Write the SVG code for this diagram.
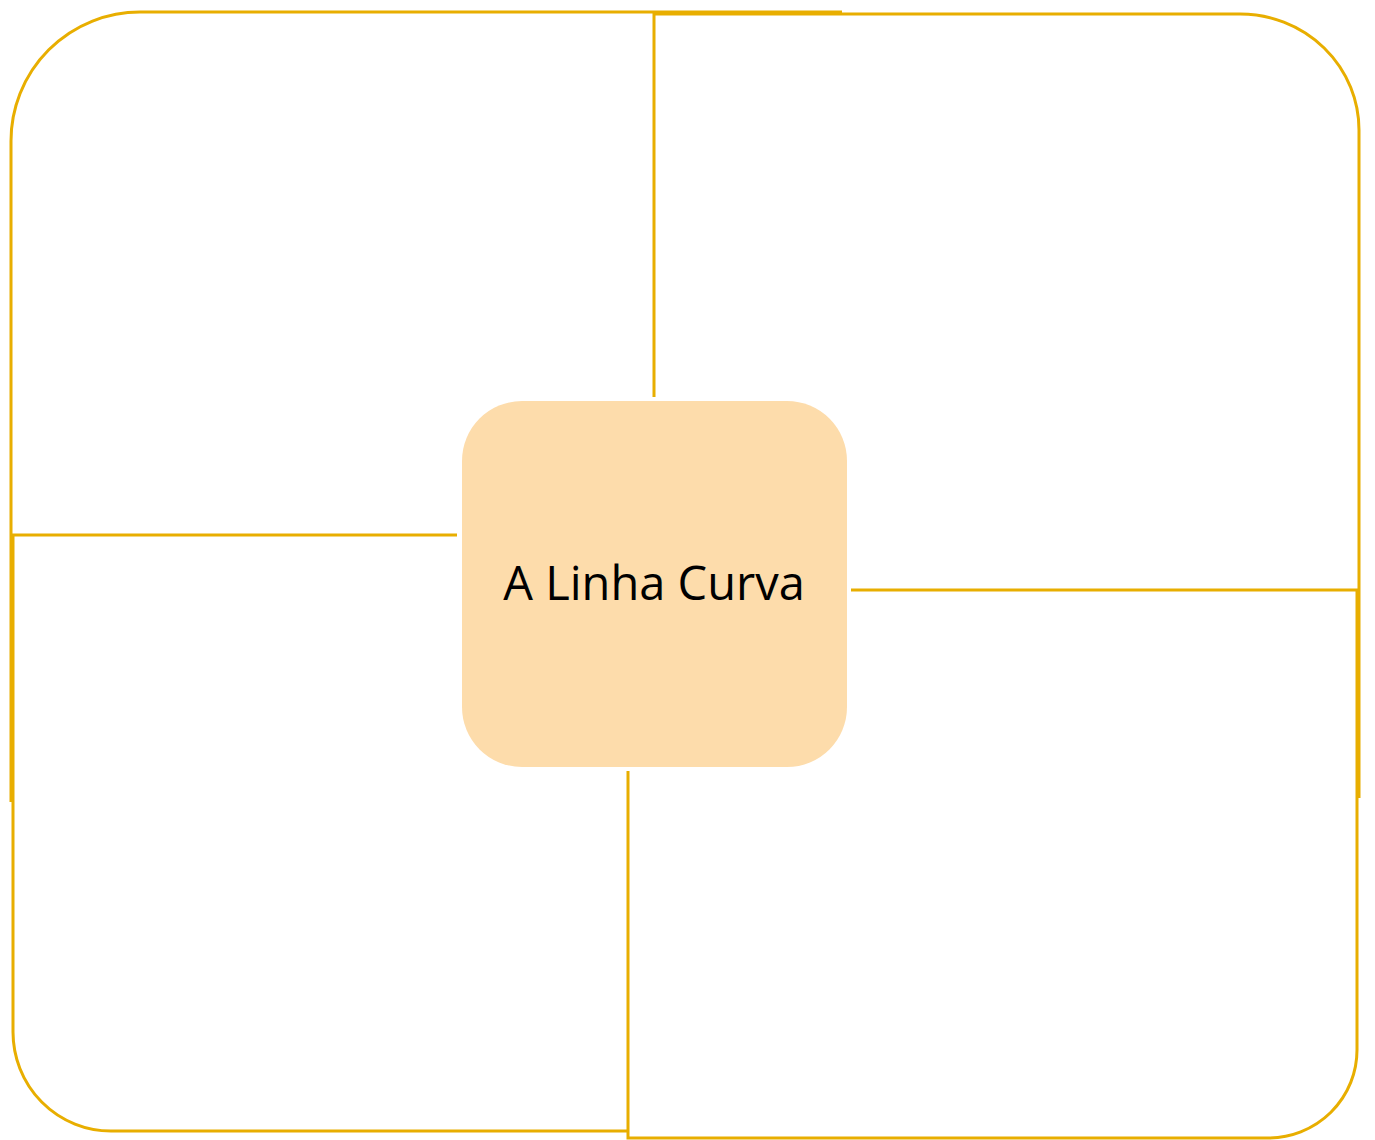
<svg xmlns="http://www.w3.org/2000/svg" width="1375" height="1140" viewBox="0 0 1375 1140">
<style>
.q{fill:none;stroke:#E8AE00;stroke-width:3}
.t{font-family:"Open Sans","Noto Sans",sans-serif;font-size:47px;fill:#000}
</style>
<rect width="1375" height="1140" fill="#fff"/>
<g id="connectors">
<path id="q-tl" class="q" d="M11,802 V141 A129,129 0 0 1 140,12 H842"/>
<path id="q-tr" class="q" d="M654,397 V14 H1240 A119,116 0 0 1 1359,130 V798"/>
<path id="q-br" class="q" d="M851,590 H1357 V1050 A89,88 0 0 1 1268,1138 H628 V771"/>
<path id="q-bl" class="q" d="M457,535 H13 V1032 A98,99 0 0 0 111,1131 H627"/>
</g>
<g id="center">
<rect x="462" y="401" width="385" height="366" rx="60" ry="60" fill="#FDDCAB"/>
<text class="t" x="654" y="600" text-anchor="middle">A Linha Curva</text>
</g>
</svg>
